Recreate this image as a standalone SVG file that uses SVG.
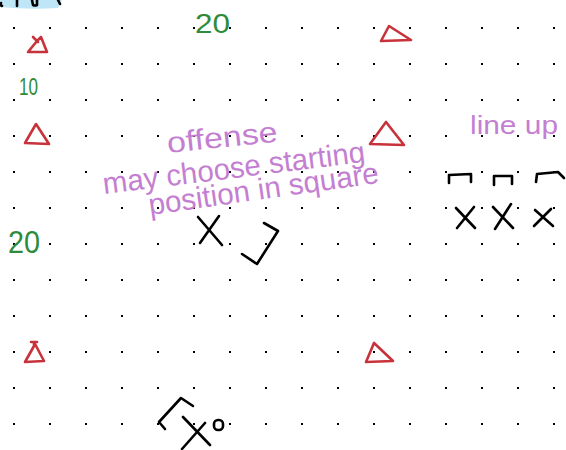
<svg xmlns="http://www.w3.org/2000/svg" width="566" height="450" viewBox="0 0 566 450">
<defs>
<pattern id="dots" patternUnits="userSpaceOnUse" x="0" y="10" width="36" height="36">
<rect x="13" y="17" width="2" height="2" fill="#000"/>
</pattern>
<style>
.red{fill:none;stroke:#c8323a;stroke-width:2.6;stroke-linecap:round;stroke-linejoin:round}
.ink{fill:none;stroke:#000;stroke-width:2.6;stroke-linecap:round;stroke-linejoin:round}
.green{fill:#2e8b3a;font-family:"Liberation Sans","Noto Sans",sans-serif}
.purple{fill:#c47fd2;font-family:"Liberation Sans","Noto Sans",sans-serif}
</style>
</defs>
<rect width="566" height="450" fill="#fff"/>
<rect x="0" y="10" width="566" height="440" fill="url(#dots)"/>
<g id="header-fragment">
<path d="M0,0 H62 L58,8 Q30,10 0,7 Z" fill="#bfe6f7"/>
<path class="ink" d="M1,3 Q0,5 2,6 M17,0 L17,6 M32,0 L33,5 Q35,6 37,5 L37,0 M58,0 L60,4" stroke-width="2"/>
</g>
<g id="cones">
<path class="red" d="M33,37 L38,42 M41,37 L37,41 L28,52 L47,52 Z"/>
<path class="red" d="M36,124 L25,143 L49,144 Z"/>
<path class="red" d="M389,26 L381,41 L411,40 Z"/>
<path class="red" d="M386,122 L370,144 L404,145 Z"/>
<path class="red" d="M31,342 L37,342 M34,342 L34,346 L25,362 L44,361 Z"/>
<path class="red" d="M374,343 L366,362 L393,361 Z"/>
</g>
<g id="yard-labels">
<text class="green" x="195" y="33" font-size="28" textLength="35" lengthAdjust="spacingAndGlyphs">20</text>
<text class="green" x="19" y="95" font-size="23" textLength="19" lengthAdjust="spacingAndGlyphs">10</text>
<text class="green" x="8" y="253" font-size="31" textLength="32" lengthAdjust="spacingAndGlyphs">20</text>
</g>
<g id="note">
<text class="purple" x="168" y="153" font-size="29" textLength="111" lengthAdjust="spacingAndGlyphs" transform="rotate(-6 168 153)">offense</text>
<text class="purple" x="104" y="194" font-size="30" textLength="264" lengthAdjust="spacingAndGlyphs" transform="rotate(-7 104 194)">may choose starting</text>
<text class="purple" x="150" y="215" font-size="30" textLength="232" lengthAdjust="spacingAndGlyphs" transform="rotate(-8 150 215)">position in square</text>
</g>
<g id="player-square">
<path class="ink" d="M198,217 L222,245 M219,216 L200,243"/>
<path class="ink" d="M264,223 L278,231 L257,264 L242,254"/>
</g>
<g id="lineup-label">
<text class="purple" x="470" y="134" font-size="26" textLength="88" lengthAdjust="spacingAndGlyphs">line up</text>
</g>
<g id="lineup-players">
<path class="ink" d="M449,183 L449,175 L471,174 L471,182"/>
<path class="ink" d="M494,185 L494,176 L512,176 L512,184"/>
<path class="ink" d="M536,182 L537,174 L558,172 L564,178"/>
<path class="ink" d="M456,208 L475,228 M474,207 L457,228"/>
<path class="ink" d="M493,207 L513,228 M511,204 L495,229"/>
<path class="ink" d="M535,210 L553,226 M551,209 L534,226"/>
</g>
<g id="bottom-group">
<path class="ink" d="M193,406 L181,398 L159,422 L165,429"/>
<path class="ink" d="M183,417 L210,445 M205,423 L182,449"/>
<rect class="ink" x="214" y="420" width="9" height="10" rx="4"/>
</g>
<g id="connectors"/>
</svg>
